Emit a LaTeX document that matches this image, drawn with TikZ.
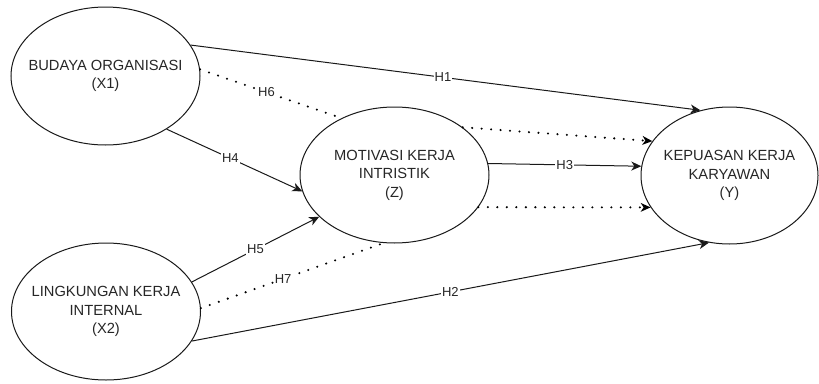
\documentclass[tikz,border=0pt]{standalone}
\usepackage{fontspec}
\setmainfont{Liberation Sans}
\usetikzlibrary{arrows.meta,shapes.geometric}
\begin{document}
\begin{tikzpicture}[x=1pt,y=-1pt,
  var/.style={draw=black!90, line width=1pt, ellipse, inner xsep=-40pt, inner ysep=-10pt, align=center, font=\fontsize{14.7}{18.5}\selectfont, text=black!85},
  lbl/.style={fill=white, inner sep=1pt, font=\fontsize{13}{14}\selectfont, text=black!85},
  arr/.style={draw=black!90, line width=1pt, -{Stealth[length=10pt,width=9pt,inset=3pt]}},
  dot/.style={draw=black, line width=2.3pt, dash pattern=on 0pt off 9.5pt, line cap=round},
  dotarr/.style={dot, -{Stealth[length=10pt,width=9pt,inset=3pt,line width=0pt,line cap=butt]}}
]
\useasboundingbox (0,0) rectangle (819,383);
\node[var, minimum width=189pt, minimum height=138pt] (x1) at (105.5,76) {BUDAYA ORGANISASI\\(X1)};
\node[var, minimum width=189pt, minimum height=137pt] (x2) at (106,311.5) {LINGKUNGAN KERJA\\INTERNAL\\(X2)};
\node[var, minimum width=189pt, minimum height=136pt] (z) at (394.5,175) {MOTIVASI KERJA\\INTRISTIK\\(Z)};
\node[var, minimum width=177pt, minimum height=137pt] (y) at (729.5,175.5) {KEPUASAN KERJA\\KARYAWAN\\(Y)};

\draw[arr] (x1.20.7) -- node[lbl, pos=0.495] {H1} (y.114.2);
\draw[arr] (x1.-41.3) -- node[lbl, pos=0.47] {H4} (z.-170.3);
\draw[arr] (z.7.8) -- node[lbl, pos=0.5] {H3} (y.174.7);
\draw[arr] (x2.19.9) -- node[lbl, pos=0.5] {H5} (z.-151.2);
\draw[arr] (x2.-19.3) -- node[lbl, pos=0.5] {H2} (y.-107.2);
\draw[dot] (x1.4.8) -- node[lbl, pos=0.47] {H6} (z.133.8);
\draw[dot] (x2.2.7) -- node[lbl, pos=0.45] {H7} (z.-99.3);
\draw[dotarr] (z.35.4) -- (y.156.6);
\draw[dotarr] (z.-21.2) -- (y.-158.4);
\end{tikzpicture}
\end{document}
